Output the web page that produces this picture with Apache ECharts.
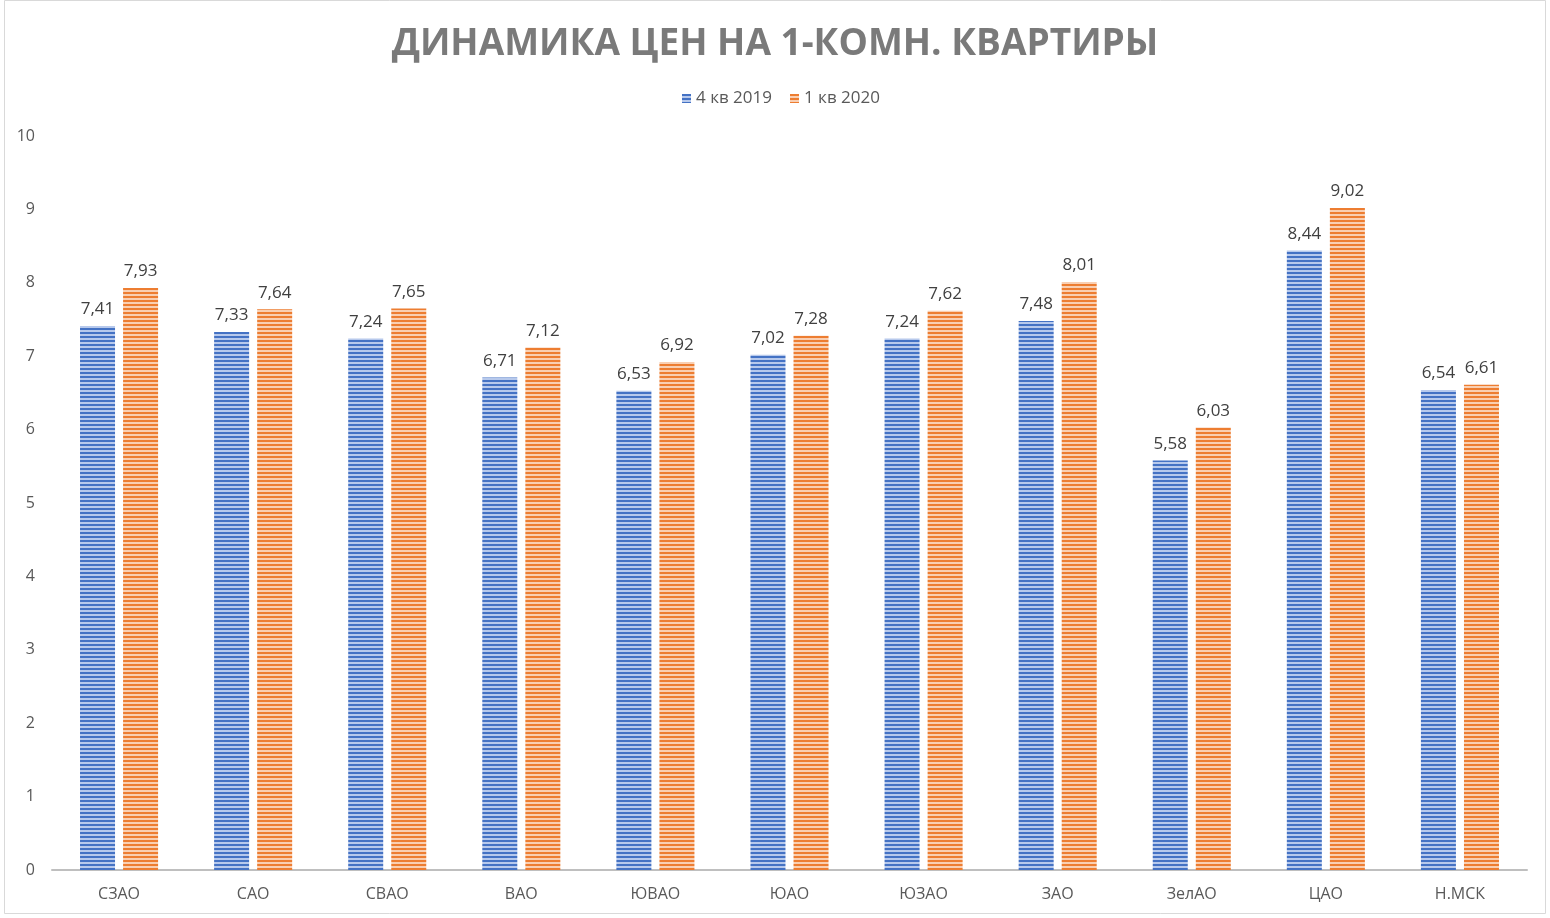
<!DOCTYPE html>
<html><head><meta charset="utf-8">
<script src="https://cdn.jsdelivr.net/npm/echarts@6/dist/echarts.min.js"></script>
<style>html,body{margin:0;padding:0;background:#fff}#c{width:1550px;height:918px}</style>
</head><body><div id="c"></div>
<script>
var categories = ['СЗАО','САО','СВАО','ВАО','ЮВАО','ЮАО','ЮЗАО','ЗАО','ЗелАО','ЦАО','Н.МСК'];
var seriesNames = ['4 кв 2019','1 кв 2020'];
var q4_2019 = [7.41,7.33,7.24,6.71,6.53,7.02,7.24,7.48,5.58,8.44,6.54];
var q1_2020 = [7.93,7.64,7.65,7.12,6.92,7.28,7.62,8.01,6.03,9.02,6.61];
var yTicks = [0,1,2,3,4,5,6,7,8,9,10];

function stripes(dark, light){
  var c = document.createElement('canvas');
  c.width = 4; c.height = 4;
  var g = c.getContext('2d');
  g.fillStyle = light; g.fillRect(0,0,4,4);
  g.fillStyle = dark; g.fillRect(0,0,4,2);
  return {image: c, repeat: 'repeat'};
}
var bluePat = stripes('#4472C4', '#b7c9ec');
var orangePat = stripes('#ED7D31', '#f9cfb2');

var font = '"Open Sans", "Noto Sans", sans-serif';
var chart = echarts.init(document.getElementById('c'));
function fmt(p){ return String(p.value.toFixed(2)).replace('.', ','); }
chart.setOption({
  animation: false,
  backgroundColor: '#fff',
  title: {
    text: 'ДИНАМИКА ЦЕН НА 1-КОМН. КВАРТИРЫ',
    left: 'center', top: 21,
    textStyle: {fontFamily: font, fontWeight: 'bold', fontSize: 37, color: '#7a7a7a'}
  },
  legend: {
    data: seriesNames, top: 85, left: 677,
    itemWidth: 9, itemHeight: 9, itemGap: 18, icon: 'rect',
    textStyle: {fontFamily: font, fontSize: 17, color: '#595959'}
  },
  graphic: [{type: 'rect', shape: {x: 4.5, y: 0.5, width: 1541, height: 913}, style: {fill: 'none', stroke: '#d9d9d9', lineWidth: 1}, silent: true}],
  grid: {left: 52, right: 23, top: 136, bottom: 48, containLabel: false},
  xAxis: {
    type: 'category', data: categories,
    axisLine: {lineStyle: {color: '#bfbfbf', width: 2}},
    axisTick: {show: false},
    axisLabel: {fontFamily: font, fontSize: 16, color: '#595959', margin: 16}
  },
  yAxis: {
    type: 'value', min: 0, max: 10, interval: 1,
    axisLine: {show: false}, axisTick: {show: false}, splitLine: {show: false},
    axisLabel: {fontFamily: font, fontSize: 16, color: '#595959', margin: 17,
      formatter: function(v){ return yTicks.indexOf(v) >= 0 ? String(v) : ''; }}
  },
  series: [
    {name: seriesNames[0], type: 'bar', data: q4_2019, barWidth: 35, barGap: '23%', barCategoryGap: '42%',
     itemStyle: {color: bluePat},
     label: {show: true, position: 'top', distance: 8, fontFamily: font, fontSize: 17, color: '#404040', formatter: fmt}},
    {name: seriesNames[1], type: 'bar', data: q1_2020, barWidth: 35,
     itemStyle: {color: orangePat},
     label: {show: true, position: 'top', distance: 8, fontFamily: font, fontSize: 17, color: '#404040', formatter: fmt}}
  ]
});
</script></body></html>
